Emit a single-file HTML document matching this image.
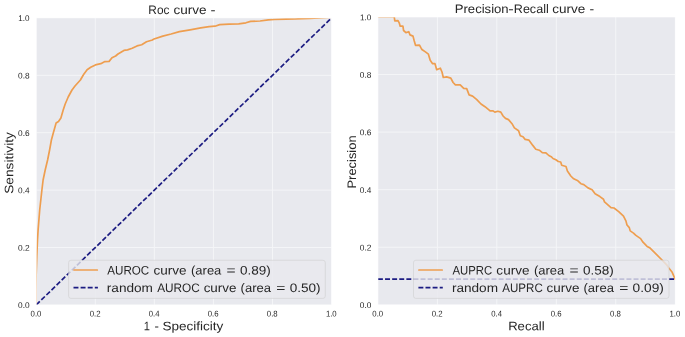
<!DOCTYPE html>
<html><head><meta charset="utf-8"><title>ROC / PR curves</title>
<style>html,body{margin:0;padding:0;background:#fff;}svg{display:block;}text{font-family:"Liberation Sans",sans-serif;fill:#262626;}</style>
</head><body>
<svg width="685" height="337" viewBox="0 0 685 337">
<rect x="0" y="0" width="685" height="337" fill="#ffffff"/>
<filter id="bl" x="0" y="0" width="685" height="337" filterUnits="userSpaceOnUse"><feGaussianBlur stdDeviation="0.45"/></filter>
<g filter="url(#bl)">
<rect x="-5" y="-5" width="695" height="347" fill="#ffffff"/>
<defs><clipPath id="c1"><rect x="36.23" y="17.9" width="295.30" height="287.00"/></clipPath><clipPath id="c2"><rect x="377.95" y="17.0" width="297.25" height="287.85"/></clipPath></defs>
<rect x="36.23" y="17.9" width="295.30" height="287.00" fill="#E8E9EE"/>
<line x1="95.29" y1="17.9" x2="95.29" y2="304.9" stroke="#F4F5F8" stroke-width="0.95"/>
<line x1="36.23" y1="247.50" x2="331.53" y2="247.50" stroke="#F4F5F8" stroke-width="0.95"/>
<line x1="154.35" y1="17.9" x2="154.35" y2="304.9" stroke="#F4F5F8" stroke-width="0.95"/>
<line x1="36.23" y1="190.10" x2="331.53" y2="190.10" stroke="#F4F5F8" stroke-width="0.95"/>
<line x1="213.41" y1="17.9" x2="213.41" y2="304.9" stroke="#F4F5F8" stroke-width="0.95"/>
<line x1="36.23" y1="132.70" x2="331.53" y2="132.70" stroke="#F4F5F8" stroke-width="0.95"/>
<line x1="272.47" y1="17.9" x2="272.47" y2="304.9" stroke="#F4F5F8" stroke-width="0.95"/>
<line x1="36.23" y1="75.30" x2="331.53" y2="75.30" stroke="#F4F5F8" stroke-width="0.95"/>
<g clip-path="url(#c1)">
<polyline points="35.80,304.90 35.80,290.00 36.20,274.00 36.80,256.00 37.50,240.00 38.10,230.00 39.70,210.00 41.90,190.00 43.10,180.00 45.20,170.00 47.60,160.00 49.60,150.00 51.40,140.00 53.50,132.30 54.70,128.00 56.10,123.00 58.50,121.50 60.90,118.00 63.20,110.00 65.20,104.00 68.20,97.00 72.00,90.00 75.00,86.00 80.40,80.00 83.30,75.00 83.60,74.40 87.10,69.70 90.70,67.30 95.40,64.90 100.80,63.70 104.90,61.60 109.10,61.40 112.00,57.80 115.60,56.00 118.00,54.00 123.90,50.40 127.50,49.90 132.20,48.30 137.00,45.90 141.70,44.70 146.50,41.80 152.40,40.00 153.30,39.30 162.80,36.10 171.10,34.00 179.40,31.60 190.10,29.80 200.80,27.80 209.10,26.60 215.00,26.20 219.70,24.60 229.20,24.20 238.70,23.80 245.90,22.80 250.60,21.40 260.10,21.00 268.40,19.80 274.30,19.50 286.20,19.20 295.00,19.00 310.00,18.30 331.53,17.20" fill="none" stroke="#EE9E50" stroke-width="1.7" stroke-linejoin="round" stroke-linecap="round"/>
<line x1="36.23" y1="304.9" x2="331.53" y2="17.9" stroke="#1E1E82" stroke-width="1.7" stroke-dasharray="4.95 2.15"/>
</g>
<rect x="36.23" y="17.9" width="295.30" height="287.00" fill="none" stroke="#fff" stroke-width="0.6"/>
<rect x="68.6" y="260.25" width="256.70" height="38.15" rx="2.4" ry="2.4" fill="#E8E9EE" fill-opacity="0.8" stroke="#cccccc" stroke-opacity="0.7" stroke-width="0.75"/>
<line x1="74.00" y1="270.0" x2="97.30" y2="270.0" stroke="#EE9E50" stroke-width="1.7" stroke-linecap="round"/>
<line x1="73.50" y1="287.6" x2="97.90" y2="287.6" stroke="#1E1E82" stroke-width="1.7" stroke-dasharray="4.95 2.15"/>
<rect x="377.95" y="17.0" width="297.25" height="287.85" fill="#E8E9EE"/>
<line x1="437.40" y1="17.0" x2="437.40" y2="304.85" stroke="#F4F5F8" stroke-width="0.95"/>
<line x1="377.95" y1="247.28" x2="675.2" y2="247.28" stroke="#F4F5F8" stroke-width="0.95"/>
<line x1="496.85" y1="17.0" x2="496.85" y2="304.85" stroke="#F4F5F8" stroke-width="0.95"/>
<line x1="377.95" y1="189.71" x2="675.2" y2="189.71" stroke="#F4F5F8" stroke-width="0.95"/>
<line x1="556.30" y1="17.0" x2="556.30" y2="304.85" stroke="#F4F5F8" stroke-width="0.95"/>
<line x1="377.95" y1="132.14" x2="675.2" y2="132.14" stroke="#F4F5F8" stroke-width="0.95"/>
<line x1="615.75" y1="17.0" x2="615.75" y2="304.85" stroke="#F4F5F8" stroke-width="0.95"/>
<line x1="377.95" y1="74.57" x2="675.2" y2="74.57" stroke="#F4F5F8" stroke-width="0.95"/>
<g clip-path="url(#c2)">
<polyline points="377.95,16.75 394.00,16.75 394.30,17.40 394.80,20.80 398.00,20.60 399.20,22.80 400.20,26.20 402.90,26.20 403.60,30.50 405.90,32.60 408.80,31.70 410.00,34.90 413.00,36.10 414.20,40.80 415.50,45.30 419.50,45.10 420.70,47.40 421.90,49.50 425.40,51.90 428.40,54.20 430.20,60.20 432.60,63.70 434.90,63.50 436.70,69.70 440.30,68.20 442.00,72.00 443.30,77.50 446.60,76.90 450.80,78.10 453.10,82.50 455.40,84.80 460.20,84.80 463.70,88.40 466.70,88.60 469.10,94.90 472.60,96.10 476.80,99.70 481.00,104.00 485.00,106.70 490.10,110.90 493.10,110.90 494.80,112.10 497.80,111.30 500.80,112.10 503.10,116.00 505.50,118.40 508.50,119.60 512.00,123.70 514.40,127.90 518.60,130.80 520.30,135.70 523.00,136.80 525.10,139.40 529.00,140.20 532.80,145.40 535.80,149.20 539.30,150.20 542.30,152.60 545.90,152.80 548.80,155.50 551.20,156.70 553.00,158.50 555.90,159.80 558.30,161.50 560.70,162.00 561.70,165.30 566.00,166.50 567.40,171.00 570.80,176.00 573.70,178.80 577.90,180.80 580.90,183.70 583.80,184.60 588.00,187.90 592.10,189.70 595.10,193.70 599.90,196.60 603.50,199.30 604.50,201.90 611.00,207.60 614.00,208.00 618.70,211.60 623.50,216.10 625.90,220.90 627.00,225.00 629.30,227.60 630.20,230.90 633.50,233.10 635.90,235.40 640.60,238.60 643.00,242.20 647.10,246.40 650.10,248.10 654.90,252.90 662.00,260.00 666.70,264.80 668.60,267.80 672.20,272.30 674.50,277.60 675.20,279.10" fill="none" stroke="#EE9E50" stroke-width="1.7" stroke-linejoin="round" stroke-linecap="round"/>
<line x1="377.95" y1="279.1" x2="675.2" y2="279.1" stroke="#1E1E82" stroke-width="1.7" stroke-dasharray="4.95 2.15"/>
</g>
<rect x="377.95" y="17.0" width="297.25" height="287.85" fill="none" stroke="#fff" stroke-width="0.6"/>
<rect x="413.5" y="260.25" width="255.50" height="38.15" rx="2.4" ry="2.4" fill="#E8E9EE" fill-opacity="0.8" stroke="#cccccc" stroke-opacity="0.7" stroke-width="0.75"/>
<line x1="418.90" y1="270.0" x2="442.20" y2="270.0" stroke="#EE9E50" stroke-width="1.7" stroke-linecap="round"/>
<line x1="418.40" y1="287.6" x2="442.80" y2="287.6" stroke="#1E1E82" stroke-width="1.7" stroke-dasharray="4.95 2.15"/>
<text transform="translate(148.35,14.10) rotate(0.03) scale(0.9640,1)" font-size="12.3">Roc</text>
<text transform="translate(173.56,14.10) rotate(0.03) scale(1.1016,1)" font-size="12.3">curve</text>
<text transform="translate(210.39,14.10) rotate(0.03) scale(1.2358,1)" font-size="12.3">-</text>
<text transform="translate(454.75,13.00) rotate(0.03) scale(1.0672,1)" font-size="12.3">Precision</text>
<text transform="translate(508.34,13.00) rotate(0.03) scale(1.3333,1)" font-size="12.3">-</text>
<text transform="translate(513.79,13.00) rotate(0.03) scale(1.0237,1)" font-size="12.3">Recall</text>
<text transform="translate(552.16,13.00) rotate(0.03) scale(1.1016,1)" font-size="12.3">curve</text>
<text transform="translate(589.54,13.00) rotate(0.03) scale(1.1382,1)" font-size="12.3">-</text>
<text transform="translate(143.82,330.15) rotate(0.03) scale(0.9054,1)" font-size="12.3">1</text>
<text transform="translate(154.57,330.15) rotate(0.03) scale(1.0732,1)" font-size="12.3">-</text>
<text transform="translate(162.46,330.15) rotate(0.03) scale(1.1007,1)" font-size="12.3">Specificity</text>
<text transform="translate(508.15,330.15) rotate(0.03) scale(1.0669,1)" font-size="12.3">Recall</text>
<text transform="translate(13.20,193.85) rotate(-90.03) scale(1.1152,1)" font-size="12.3">Sensitivity</text>
<text transform="translate(356.00,188.53) rotate(-90.03) scale(1.0509,1)" font-size="12.3">Precision</text>
<text transform="translate(107.30,274.60) rotate(0.03) scale(0.9449,1)" font-size="12.3">AUROC</text>
<text transform="translate(153.46,274.60) rotate(0.03) scale(1.1016,1)" font-size="12.3">curve</text>
<text transform="translate(191.02,274.60) rotate(0.03) scale(1.0563,1)" font-size="12.3">(area</text>
<text transform="translate(226.58,274.60) rotate(0.03) scale(1.2683,1)" font-size="12.3">=</text>
<text transform="translate(239.99,274.60) rotate(0.03) scale(1.0994,1)" font-size="12.3">0.89)</text>
<text transform="translate(106.78,292.10) rotate(0.03) scale(1.1072,1)" font-size="12.3">random</text>
<text transform="translate(157.20,292.10) rotate(0.03) scale(0.9608,1)" font-size="12.3">AUROC</text>
<text transform="translate(203.66,292.10) rotate(0.03) scale(1.0913,1)" font-size="12.3">curve</text>
<text transform="translate(240.62,292.10) rotate(0.03) scale(1.0598,1)" font-size="12.3">(area</text>
<text transform="translate(276.28,292.10) rotate(0.03) scale(1.2683,1)" font-size="12.3">=</text>
<text transform="translate(289.69,292.10) rotate(0.03) scale(1.1031,1)" font-size="12.3">0.50)</text>
<text transform="translate(452.40,274.60) rotate(0.03) scale(0.9236,1)" font-size="12.3">AUPRC</text>
<text transform="translate(496.36,274.60) rotate(0.03) scale(1.1016,1)" font-size="12.3">curve</text>
<text transform="translate(533.92,274.60) rotate(0.03) scale(1.0563,1)" font-size="12.3">(area</text>
<text transform="translate(569.48,274.60) rotate(0.03) scale(1.2683,1)" font-size="12.3">=</text>
<text transform="translate(582.89,274.60) rotate(0.03) scale(1.0994,1)" font-size="12.3">0.58)</text>
<text transform="translate(451.88,292.10) rotate(0.03) scale(1.1072,1)" font-size="12.3">random</text>
<text transform="translate(502.30,292.10) rotate(0.03) scale(0.9400,1)" font-size="12.3">AUPRC</text>
<text transform="translate(546.56,292.10) rotate(0.03) scale(1.0913,1)" font-size="12.3">curve</text>
<text transform="translate(583.52,292.10) rotate(0.03) scale(1.0598,1)" font-size="12.3">(area</text>
<text transform="translate(619.18,292.10) rotate(0.03) scale(1.2683,1)" font-size="12.3">=</text>
<text transform="translate(632.59,292.10) rotate(0.03) scale(1.1142,1)" font-size="12.3">0.09)</text>
<text transform="translate(30.60,316.60) rotate(0.03) scale(0.9373,1)" font-size="8.3" fill="#303030">0.0</text>
<text transform="translate(18.08,308.10) rotate(0.03) scale(1.0010,1)" font-size="8.3" fill="#303030">0.0</text>
<text transform="translate(89.65,316.60) rotate(0.03) scale(0.9444,1)" font-size="8.3" fill="#303030">0.2</text>
<text transform="translate(18.08,250.70) rotate(0.03) scale(1.0086,1)" font-size="8.3" fill="#303030">0.2</text>
<text transform="translate(148.72,316.60) rotate(0.03) scale(0.9303,1)" font-size="8.3" fill="#303030">0.4</text>
<text transform="translate(18.08,193.30) rotate(0.03) scale(0.9935,1)" font-size="8.3" fill="#303030">0.4</text>
<text transform="translate(207.78,316.60) rotate(0.03) scale(0.9373,1)" font-size="8.3" fill="#303030">0.6</text>
<text transform="translate(18.08,135.90) rotate(0.03) scale(1.0010,1)" font-size="8.3" fill="#303030">0.6</text>
<text transform="translate(266.84,316.60) rotate(0.03) scale(0.9373,1)" font-size="8.3" fill="#303030">0.8</text>
<text transform="translate(18.08,78.50) rotate(0.03) scale(1.0010,1)" font-size="8.3" fill="#303030">0.8</text>
<text transform="translate(325.88,316.60) rotate(0.03) scale(0.9383,1)" font-size="8.3" fill="#303030">1.0</text>
<text transform="translate(18.36,21.10) rotate(0.03) scale(0.9759,1)" font-size="8.3" fill="#303030">1.0</text>
<text transform="translate(372.32,316.60) rotate(0.03) scale(0.9373,1)" font-size="8.3" fill="#303030">0.0</text>
<text transform="translate(359.80,308.05) rotate(0.03) scale(1.0010,1)" font-size="8.3" fill="#303030">0.0</text>
<text transform="translate(431.76,316.60) rotate(0.03) scale(0.9444,1)" font-size="8.3" fill="#303030">0.2</text>
<text transform="translate(359.80,250.48) rotate(0.03) scale(1.0086,1)" font-size="8.3" fill="#303030">0.2</text>
<text transform="translate(491.22,316.60) rotate(0.03) scale(0.9303,1)" font-size="8.3" fill="#303030">0.4</text>
<text transform="translate(359.80,192.91) rotate(0.03) scale(0.9935,1)" font-size="8.3" fill="#303030">0.4</text>
<text transform="translate(550.67,316.60) rotate(0.03) scale(0.9373,1)" font-size="8.3" fill="#303030">0.6</text>
<text transform="translate(359.80,135.34) rotate(0.03) scale(1.0010,1)" font-size="8.3" fill="#303030">0.6</text>
<text transform="translate(610.12,316.60) rotate(0.03) scale(0.9373,1)" font-size="8.3" fill="#303030">0.8</text>
<text transform="translate(359.80,77.77) rotate(0.03) scale(1.0010,1)" font-size="8.3" fill="#303030">0.8</text>
<text transform="translate(669.55,316.60) rotate(0.03) scale(0.9383,1)" font-size="8.3" fill="#303030">1.0</text>
<text transform="translate(360.08,20.20) rotate(0.03) scale(0.9759,1)" font-size="8.3" fill="#303030">1.0</text>
</g></svg></body></html>
